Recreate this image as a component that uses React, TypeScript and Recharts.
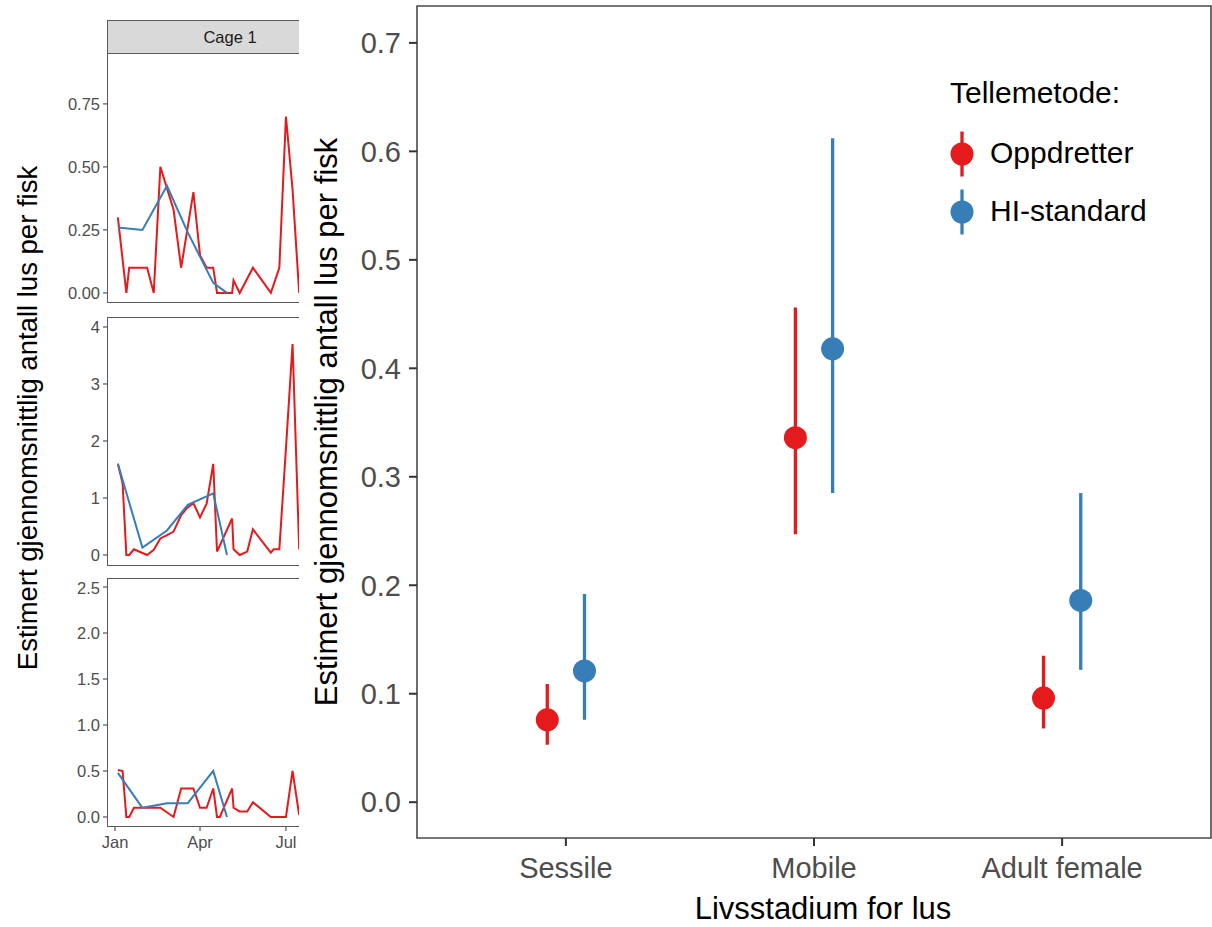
import React from "react";
import {
  LineChart,
  Line,
  XAxis,
  YAxis,
  ScatterChart,
  Scatter,
  ErrorBar,
  ReferenceArea,
} from "recharts";

const FONT = "'Liberation Sans', Arial, Helvetica, sans-serif";
const RED = "#E41A1C";
const BLUE = "#377EB8";
const TICK_TEXT = "#4D4D4D";
const FRAME = "#4A4A4A";

// --- estimates per louse stage (main panel) ---
const STAGES = ["Sessile", "Mobile", "Adult female"];
const METHODS = ["Oppdretter", "HI-standard"];
const METHOD_COLORS = [RED, BLUE];

const OPP_EST = [0.076, 0.336, 0.096];
const OPP_LO = [0.053, 0.247, 0.068];
const OPP_HI = [0.109, 0.456, 0.135];

const HI_EST = [0.121, 0.418, 0.186];
const HI_LO = [0.076, 0.285, 0.122];
const HI_HI = [0.192, 0.612, 0.285];

const MAIN_Y_TICKS = [0, 0.1, 0.2, 0.3, 0.4, 0.5, 0.6, 0.7];
const DODGE = 0.075;

// --- cage time series (day of year) ---
const RED_DAYS = [
  3, 8, 12, 15, 20, 34, 41, 48, 55, 62, 70, 76, 83, 90, 97, 104, 108, 111, 124,
  125.5, 132, 140, 146, 165, 168, 174, 181, 188, 195,
];
const BLUE_DAYS = [3, 29, 55, 77, 104, 118.5];

const CAGE1_RED = [
  0.3, null, 0, 0.1, 0.1, 0.1, 0, 0.5, null, 0.33, 0.1, null, 0.4, 0.15, 0.1,
  0.1, 0, 0, 0, 0.05, 0, null, 0.1, 0, null, 0.1, 0.7, 0.41, 0,
];
const CAGE2_RED = [
  1.6, 1.26, 0, 0, 0.1, 0, 0.09, 0.29, 0.35, 0.41, 0.7, 0.82, 0.91, 0.66, 0.9,
  1.6, 0.06, null, 0.64, 0.1, 0, 0.06, 0.45, 0.04, 0.1, 0.1, 1.87, 3.7, 0.1,
];
const CAGE3_RED = [
  0.51, 0.5, 0, 0, 0.1, 0.1, 0.1, 0.1, null, 0, 0.31, 0.31, 0.31, 0.1, 0.1,
  0.31, 0, 0, 0.31, 0.1, 0.06, 0.06, 0.16, 0, 0, 0, 0, 0.5, 0.02,
];

const CAGE1_BLUE = [0.26, 0.25, 0.425, 0.24, 0.04, 0];
const CAGE2_BLUE = [1.6, 0.13, 0.43, 0.88, 1.08, 0];
const CAGE3_BLUE = [0.48, 0.1, 0.15, 0.15, 0.5, 0];

const MONTH_TICKS = [0, 90, 181];
const MONTH_LABELS = ["Jan", "Apr", "Jul"];
const DAY_DOMAIN = [-8.5, 252];

const PANEL_LEFT = 107;
const PANEL_W = 246;

function cageRows(red: (number | null)[], blue: number[]) {
  const byDay = new Map<number, { day: number; red?: number | null; blue?: number }>();
  RED_DAYS.forEach((day, i) => {
    byDay.set(day, { ...(byDay.get(day) || { day }), red: red[i] });
  });
  BLUE_DAYS.forEach((day, i) => {
    byDay.set(day, { ...(byDay.get(day) || { day }), blue: blue[i] });
  });
  return Array.from(byDay.values()).sort((a, b) => a.day - b.day);
}

function CagePanel({
  top,
  plotHeight,
  red,
  blue,
  yDomain,
  yTicks,
  digits,
  showX,
}: {
  top: number;
  plotHeight: number;
  red: (number | null)[];
  blue: number[];
  yDomain: [number, number];
  yTicks: number[];
  digits: number;
  showX: boolean;
}) {
  const data = cageRows(red, blue);
  const xHeight = showX ? 34 : 0;
  const tickStyle = { fontSize: 16.5, fill: TICK_TEXT, fontFamily: FONT };
  return (
    <div style={{ position: "absolute", left: 0, top, width: 360, height: plotHeight + xHeight }}>
      <LineChart
        width={360}
        height={plotHeight + xHeight}
        data={data}
        margin={{ top: 0, right: 7, bottom: 0, left: 0 }}
      >
        <XAxis
          type="number"
          dataKey="day"
          domain={DAY_DOMAIN}
          ticks={MONTH_TICKS}
          tickFormatter={(v: number) => MONTH_LABELS[MONTH_TICKS.indexOf(v)]}
          allowDataOverflow
          hide={!showX}
          height={xHeight}
          axisLine={false}
          tickSize={4}
          tickMargin={5}
          tickLine={{ stroke: "#333333" }}
          tick={tickStyle}
        />
        <YAxis
          type="number"
          domain={yDomain}
          ticks={yTicks}
          allowDataOverflow
          width={PANEL_LEFT}
          axisLine={false}
          tickSize={4}
          tickMargin={3}
          tickLine={{ stroke: "#333333" }}
          tick={tickStyle}
          tickFormatter={(v: number) => v.toFixed(digits)}
        />
        <Line
          dataKey="red"
          stroke={RED}
          strokeWidth={2}
          dot={false}
          connectNulls
          isAnimationActive={false}
        />
        <Line
          dataKey="blue"
          stroke={BLUE}
          strokeWidth={2}
          dot={false}
          connectNulls
          isAnimationActive={false}
        />
      </LineChart>
      <div
        style={{
          position: "absolute",
          left: PANEL_LEFT,
          top: 0,
          width: PANEL_W,
          height: plotHeight,
          border: "1px solid #5A5A5A",
          boxSizing: "border-box",
          pointerEvents: "none",
        }}
      />
    </div>
  );
}

function CageFigure() {
  return (
    <div style={{ position: "absolute", left: 0, top: 0, width: 299, height: 927, overflow: "hidden" }}>
      <div
        style={{
          position: "absolute",
          left: PANEL_LEFT,
          top: 20,
          width: PANEL_W,
          height: 34,
          background: "#D9D9D9",
          border: "1px solid #5A5A5A",
          boxSizing: "border-box",
          fontFamily: FONT,
          fontSize: 16.5,
          color: "#1A1A1A",
          display: "flex",
          alignItems: "center",
          justifyContent: "center",
        }}
      >
        Cage 1
      </div>
      <CagePanel
        top={53}
        plotHeight={250}
        red={CAGE1_RED}
        blue={CAGE1_BLUE}
        yDomain={[-0.04, 0.952]}
        yTicks={[0, 0.25, 0.5, 0.75]}
        digits={2}
        showX={false}
      />
      <CagePanel
        top={317}
        plotHeight={249}
        red={CAGE2_RED}
        blue={CAGE2_BLUE}
        yDomain={[-0.193, 4.175]}
        yTicks={[0, 1, 2, 3, 4]}
        digits={0}
        showX={false}
      />
      <CagePanel
        top={578}
        plotHeight={249}
        red={CAGE3_RED}
        blue={CAGE3_BLUE}
        yDomain={[-0.109, 2.598]}
        yTicks={[0, 0.5, 1, 1.5, 2, 2.5]}
        digits={1}
        showX={true}
      />
      <svg width={299} height={927} style={{ position: "absolute", left: 0, top: 0, pointerEvents: "none" }}>
        <text
          x={37}
          y={418}
          transform="rotate(-90 37 418)"
          textAnchor="middle"
          fontFamily={FONT}
          fontSize={27.5}
          fill="#000"
        >
          Estimert gjennomsnittlig antall lus per fisk
        </text>
      </svg>
    </div>
  );
}

function stageRows(est: number[], lo: number[], hi: number[], offset: number) {
  return STAGES.map((stage, i) => ({
    stage,
    pos: i + 1 + offset,
    est: est[i],
    err: [est[i] - lo[i], hi[i] - est[i]],
  }));
}

const dotShape = (color: string) => (props: any) =>
  <circle cx={props.cx} cy={props.cy} r={11.5} fill={color} />;

function StageFigure() {
  const oppRows = stageRows(OPP_EST, OPP_LO, OPP_HI, -DODGE);
  const hiRows = stageRows(HI_EST, HI_LO, HI_HI, DODGE);
  const tickStyle = { fontSize: 29, fill: TICK_TEXT, fontFamily: FONT };
  return (
    <div style={{ position: "absolute", left: 299, top: 0, width: 913, height: 927, background: "#fff" }}>
      <ScatterChart width={913} height={927} margin={{ top: 6, right: 1, bottom: 0, left: 0 }}>
        <XAxis
          type="number"
          dataKey="pos"
          domain={[0.4, 3.6]}
          ticks={[1, 2, 3]}
          tickFormatter={(v: number) => STAGES[Math.round(v) - 1]}
          allowDataOverflow
          height={89}
          axisLine={false}
          tickSize={8}
          tickMargin={11}
          tickLine={{ stroke: "#333333", strokeWidth: 2 }}
          tick={tickStyle}
        />
        <YAxis
          type="number"
          dataKey="est"
          domain={[-0.033, 0.734]}
          ticks={MAIN_Y_TICKS}
          allowDataOverflow
          width={118}
          axisLine={false}
          tickSize={8}
          tickMargin={8}
          tickLine={{ stroke: "#333333", strokeWidth: 2 }}
          tick={tickStyle}
          tickFormatter={(v: number) => v.toFixed(1)}
        />
        <ReferenceArea
          x1={0.4}
          x2={3.6}
          y1={-0.033}
          y2={0.734}
          fill="none"
          stroke={FRAME}
          strokeWidth={1.6}
          ifOverflow="visible"
        />
        <Scatter name={METHODS[0]} data={oppRows} fill={RED} shape={dotShape(RED)} isAnimationActive={false}>
          <ErrorBar dataKey="err" direction="y" width={0} stroke={RED} strokeWidth={3.3} isAnimationActive={false} />
        </Scatter>
        <Scatter name={METHODS[1]} data={hiRows} fill={BLUE} shape={dotShape(BLUE)} isAnimationActive={false}>
          <ErrorBar dataKey="err" direction="y" width={0} stroke={BLUE} strokeWidth={3.3} isAnimationActive={false} />
        </Scatter>
      </ScatterChart>
      <svg width={913} height={927} style={{ position: "absolute", left: 0, top: 0, pointerEvents: "none" }}>
        <text
          x={38}
          y={422}
          transform="rotate(-90 38 422)"
          textAnchor="middle"
          fontFamily={FONT}
          fontSize={31}
          fill="#000"
        >
          Estimert gjennomsnittlig antall lus per fisk
        </text>
        <text x={524} y={919} textAnchor="middle" fontFamily={FONT} fontSize={31} fill="#000">
          Livsstadium for lus
        </text>
        <text x={651} y={103} fontFamily={FONT} fontSize={30} fill="#000">
          Tellemetode:
        </text>
        {METHODS.map((name, i) => {
          const cy = 154 + i * 58;
          return (
            <g key={name}>
              <line x1={663} x2={663} y1={cy - 22.5} y2={cy + 22.5} stroke={METHOD_COLORS[i]} strokeWidth={3.3} />
              <circle cx={663} cy={cy} r={11.5} fill={METHOD_COLORS[i]} />
              <text x={691} y={cy + 9} fontFamily={FONT} fontSize={30} fill="#000">
                {name}
              </text>
            </g>
          );
        })}
      </svg>
    </div>
  );
}

export default function App() {
  return (
    <div style={{ position: "absolute", left: 0, top: 0, width: 1212, height: 927, background: "#fff" }}>
      <CageFigure />
      <StageFigure />
    </div>
  );
}
